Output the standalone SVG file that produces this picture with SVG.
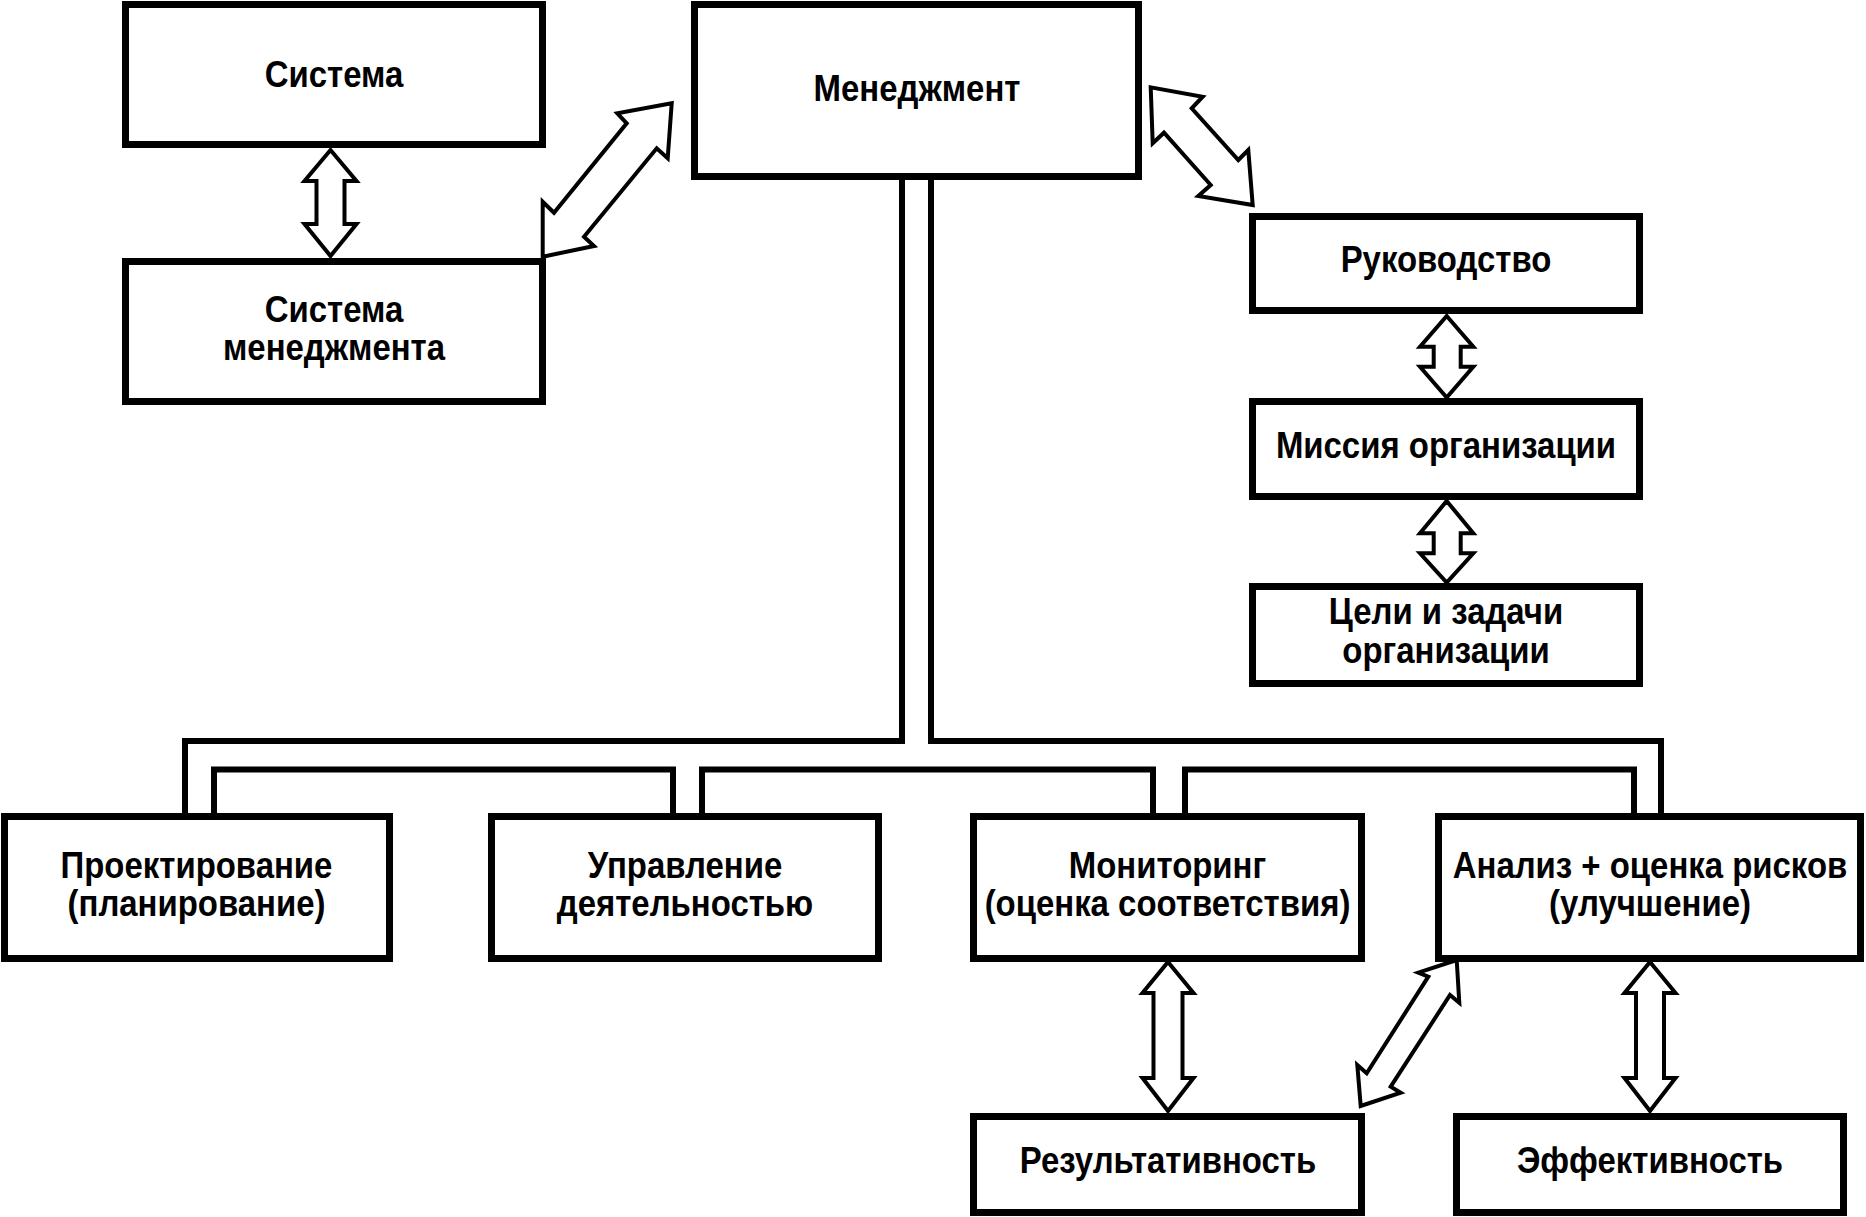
<svg xmlns="http://www.w3.org/2000/svg" width="1866" height="1217" viewBox="0 0 1866 1217">
<style>
.box{fill:#fff;stroke:#000;stroke-width:7}
.lbl{font-family:"Liberation Sans",Arial,sans-serif;font-weight:bold;font-size:37px;fill:#000;text-anchor:middle}
.conn{fill:none;stroke:#000;stroke-width:6;stroke-linejoin:miter;stroke-linecap:butt}
.arr{fill:#fff;stroke:#000;stroke-width:4;stroke-linejoin:miter}
</style>
<rect width="1866" height="1217" fill="#fff"/>
<g id="connectors">
<path class="conn" d="M902,180 V741 H185 V813"/>
<path class="conn" d="M931,180 V741 H1661 V813"/>
<path class="conn" d="M214,813 V769.5 H673 V813"/>
<path class="conn" d="M702,813 V769.5 H1153 V813"/>
<path class="conn" d="M1185,813 V769.5 H1634 V813"/>
<polygon class="arr" points="330.5,150 356.5,181 344.5,181 344.5,224 356.5,224 330.5,256 304.5,224 316.5,224 316.5,181 304.5,181"/>
<polygon class="arr" points="542.7,256.7 594,246 584,236.7 656.7,148.3 667.7,158.3 671.7,103.3 617.3,113.3 626.7,123.3 554,212.7 542.7,201.7"/>
<polygon class="arr" points="1150.7,87.3 1152.7,143.3 1164,132.7 1210.7,185 1198.3,196 1252.7,205 1248.3,150 1238.3,160 1191.7,108.3 1202.7,96.7"/>
<polygon class="arr" points="1446.7,316 1473.3,346.7 1460.7,346.7 1460.7,366.7 1473.3,366.7 1446.7,397.5 1420,366.7 1433.7,366.7 1433.7,346.7 1420,346.7"/>
<polygon class="arr" points="1446.7,501 1473.3,533.3 1460.7,533.3 1460.7,553.3 1473.3,553.3 1446.7,582.5 1420,553.3 1433.7,553.3 1433.7,533.3 1420,533.3"/>
<polygon class="arr" points="1168,962 1193.5,993 1182.5,993 1182.5,1078 1193.5,1078 1168,1111 1142.5,1078 1153.5,1078 1153.5,993 1142.5,993"/>
<polygon class="arr" points="1650,962 1675.5,993 1664,993 1664,1078 1675.5,1078 1650,1111 1624.5,1078 1636,1078 1636,993 1624.5,993"/>
<polygon class="arr" points="1456.7,960 1459.3,1002.7 1450,995 1390.7,1086.7 1400.7,1092.7 1360.7,1106 1357.3,1065 1366.7,1073.3 1428.3,976.7 1418.3,972.7"/>
</g>
<g id="sistema"><rect class="box" x="125.5" y="4.5" width="417" height="140"/><text class="lbl" transform="translate(334,87) scale(0.89,1)">Система</text></g>
<g id="sistema-menedzhmenta"><rect class="box" x="125.5" y="261.5" width="417" height="140"/><text class="lbl" transform="translate(334,322) scale(0.89,1)">Система</text><text class="lbl" transform="translate(334,360) scale(0.89,1)">менеджмента</text></g>
<g id="menedzhment"><rect class="box" x="694.5" y="4.5" width="444" height="172"/><text class="lbl" transform="translate(917,101) scale(0.89,1)">Менеджмент</text></g>
<g id="rukovodstvo"><rect class="box" x="1252.5" y="216.5" width="387" height="94"/><text class="lbl" transform="translate(1446,272) scale(0.89,1)">Руководство</text></g>
<g id="missiya"><rect class="box" x="1252.5" y="401.5" width="387" height="95"/><text class="lbl" transform="translate(1446,458) scale(0.89,1)">Миссия организации</text></g>
<g id="tseli"><rect class="box" x="1252.5" y="586.5" width="387" height="97"/><text class="lbl" transform="translate(1446,624) scale(0.89,1)">Цели и задачи</text><text class="lbl" transform="translate(1446,663) scale(0.89,1)">организации</text></g>
<g id="proektirovanie"><rect class="box" x="4.5" y="816.5" width="385" height="142"/><text class="lbl" transform="translate(196.5,878) scale(0.89,1)">Проектирование</text><text class="lbl" transform="translate(196.5,916) scale(0.89,1)">(планирование)</text></g>
<g id="upravlenie"><rect class="box" x="491.5" y="816.5" width="387" height="142"/><text class="lbl" transform="translate(685,878) scale(0.89,1)">Управление</text><text class="lbl" transform="translate(685,916) scale(0.89,1)">деятельностью</text></g>
<g id="monitoring"><rect class="box" x="973.5" y="816.5" width="388" height="142"/><text class="lbl" transform="translate(1167.5,878) scale(0.89,1)">Мониторинг</text><text class="lbl" transform="translate(1167.5,916) scale(0.89,1)">(оценка соответствия)</text></g>
<g id="analiz"><rect class="box" x="1438.5" y="816.5" width="422" height="142"/><text class="lbl" transform="translate(1650,878) scale(0.89,1)">Анализ + оценка рисков</text><text class="lbl" transform="translate(1650,916) scale(0.89,1)">(улучшение)</text></g>
<g id="rezultativnost"><rect class="box" x="973.5" y="1116.5" width="388" height="96"/><text class="lbl" transform="translate(1168,1173) scale(0.89,1)">Результативность</text></g>
<g id="effektivnost"><rect class="box" x="1456.5" y="1116.5" width="387" height="96"/><text class="lbl" transform="translate(1650,1173) scale(0.89,1)">Эффективность</text></g>
</svg>
